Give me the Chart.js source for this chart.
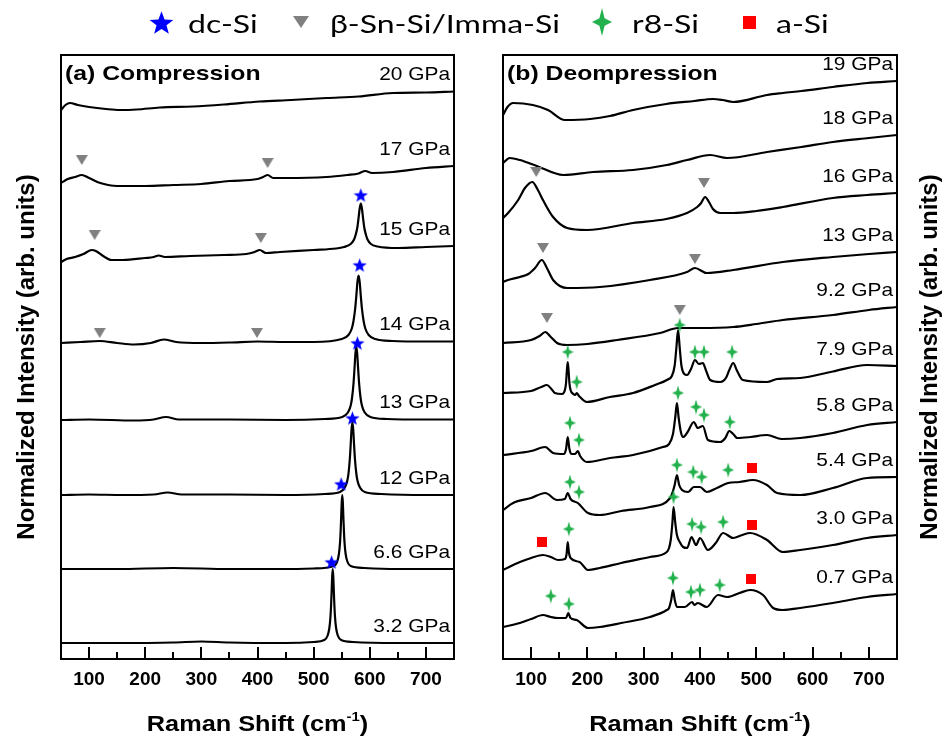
<!DOCTYPE html>
<html><head><meta charset="utf-8">
<script src="https://cdn.jsdelivr.net/npm/chart.js@4.4.1/dist/chart.umd.min.js"></script>
<style>
html,body{margin:0;padding:0;background:#fff;}
#wrap{position:relative;width:944px;height:744px;overflow:hidden;background:#fff;}
#wrap canvas{position:absolute;left:0;top:0;}
</style></head><body>
<div id="wrap"><canvas id="cL" width="944" height="744"></canvas><canvas id="cR" width="944" height="744"></canvas></div>
<script>
// ================= DATA =================
const xTickValues = [100, 200, 300, 400, 500, 600, 700];
const xMinorTickValues = [150, 250, 350, 450, 550, 650];
const legendLabels = ['dc-Si', 'β-Sn-Si/Imma-Si', 'r8-Si', 'a-Si'];

// (a) Compression: spectra as [Raman shift, intensity above own baseline], stacked by offsets
const compLabels  = ['3.2 GPa', '6.6 GPa', '12 GPa', '13 GPa', '14 GPa', '15 GPa', '17 GPa', '20 GPa'];
const compOffsets = [3.2, 18.0, 32.8, 47.8, 63.2, 79.8, 94.8, 110.0];
const comp_3_2 = [[50,0],[150,0],[250,0.1],[300,0.3],[350,0.1],[450,0],[500,0.2],[519,0.6],[525,1.5],[528,3.0],[530,5.3],[531,7.4],[532,10.2],[533,13.3],[534,14.8],[535,13.3],[536,10.2],[537,7.4],[538,5.3],[540,3.0],[543,1.5],[549,0.6],[570,0.2],[650,0],[750,0]];
const comp_6_6 = [[50,0],[150,0],[250,0.2],[350,0],[450,0],[500,0.1],[536,0.6],[542,1.5],[545,3.0],[547,5.3],[548,7.4],[549,10.2],[550,13.3],[551,14.8],[552,13.3],[553,10.2],[554,7.4],[555,5.3],[557,3.0],[560,1.5],[566,0.6],[590,0.2],[650,0],[750,0]];
const comp_12  = [[50,0],[100,0.1],[160,0],[215,0.1],[240,0.5],[265,0.1],[350,0.1],[450,0],[520,0.2],[547,0.6],[555.5,1.5],[560,2.9],[562.3,4.5],[564.5,7.3],[566,10.1],[567.5,13.1],[569,14.6],[570.5,13.1],[572,10.1],[573.5,7.3],[575.8,4.5],[578,2.9],[582.5,1.5],[591,0.6],[620,0.2],[700,0],[750,0]];
const comp_13  = [[50,0],[100,0.1],[180,-0.1],[215,0.1],[237,0.6],[260,0.1],[350,0.1],[450,0],[520,0.2],[551,0.6],[561,1.5],[566,2.9],[568.5,4.5],[571,7.3],[573,10.7],[574.5,13.4],[576,14.6],[577.5,13.4],[579,10.7],[581,7.3],[583.5,4.5],[586,2.9],[591,1.5],[601,0.6],[630,0.2],[700,0.1],[750,0.1]];
const comp_14  = [[50,0],[85,0.2],[119,0.4],[150,0],[180,-0.3],[210,0],[233,0.7],[255,0.2],[300,0],[350,0.1],[400,0.3],[450,0.2],[500,0.2],[550,0.8],[562,1.6],[568,2.9],[571,4.4],[574,6.9],[576,9.4],[578,12.2],[580,13.5],[582,12.2],[584,9.4],[586,6.9],[589,4.4],[592,2.9],[598,1.6],[610,0.8],[640,0.4],[700,0.3],[750,0.3]];
const comp_15  = [[50,-0.4],[60,0.2],[75,0.6],[90,1.2],[105,2.0],[112,1.8],[125,0.8],[140,0],[160,0],[200,0.4],[215,0.6],[224,0.9],[235,0.6],[280,0.8],[340,1.0],[380,1.2],[395,1.6],[404,2.0],[415,1.4],[440,1.6],[500,2.0],[540,2.3],[554,2.6],[566,3.2],[572,4.1],[575,5.1],[578,6.6],[580,8.4],[582,10.3],[584,11.3],[586,10.3],[588,8.4],[590,6.6],[593,5.1],[596,4.1],[602,3.2],[614,2.7],[650,2.4],[700,2.6],[750,2.8]];
const comp_17  = [[50,0.4],[62,1.2],[75,1.6],[87,2.0],[100,1.4],[120,0.4],[150,-0.2],[200,-0.2],[250,0],[300,0.2],[350,0.8],[400,1.2],[410,1.6],[418,2.0],[428,1.4],[450,1.4],[523,1.6],[560,2.0],[580,2.3],[592,2.8],[604,2.4],[641,2.6],[700,3.4],[750,3.8]];
const comp_20  = [[50,-0.2],[58,0.8],[66,1.2],[80,0.8],[100,0.4],[130,0],[155,-0.2],[185,-0.1],[226,0.3],[285,0.5],[340,0.9],[404,1.5],[460,1.8],[523,2.2],[580,2.5],[641,3.2],[700,3.3],[750,3.5]];
const compSpectra = [comp_3_2, comp_6_6, comp_12, comp_13, comp_14, comp_15, comp_17, comp_20];

// (b) Decompression
const decLabels  = ['0.7 GPa', '3.0 GPa', '5.4 GPa', '5.8 GPa', '7.9 GPa', '9.2 GPa', '13 GPa', '16 GPa', '18 GPa', '19 GPa'];
const decOffsets = [6.4, 17.8, 29.8, 40.8, 53.2, 63.2, 75.8, 89.2, 99.2, 109.8];
const dec_0_7 = [[50,0],[80,0.8],[100,1.6],[121,2.4],[135,2.0],[148,1.8],[162,1.8],[166,2.8],[170,1.8],[181,1.4],[201,-0.2],[222,0],[260,0.8],[311,2.0],[341,3.4],[345,3.8],[349,5.5],[352,7.4],[355,5.5],[359,4.0],[373,4.0],[386,5.0],[390,4.4],[396,4.8],[412,4.0],[432,6.4],[448,6.0],[470,6.8],[489,7.4],[512,6.4],[530,3.8],[547,3.4],[578,3.8],[636,4.8],[697,6.0],[750,6.6]];
const dec_3_0 = [[50,0],[80,1.6],[100,2.4],[121,3.0],[135,2.6],[148,2.0],[160,2.2],[163,3.2],[165,5.6],[167,3.6],[170,2.4],[186,1.6],[201,0],[222,0.4],[260,1.4],[311,2.6],[341,3.6],[345,4.4],[348,6.0],[351,9.5],[353,12.6],[356,9.5],[359,7.0],[364,5.6],[370,4.6],[377,4.4],[385,6.6],[393,5.0],[400,6.4],[414,4.0],[428,5.4],[441,7.4],[459,6.4],[475,7.0],[489,7.4],[519,6.0],[547,3.6],[578,4.0],[636,5.0],[697,6.4],[750,7.0]];
const dec_5_4 = [[50,0],[68,1.4],[100,2.4],[125,3.4],[146,2.0],[160,2.2],[165,3.4],[170,2.2],[183,1.4],[201,-0.6],[222,-1.0],[260,-0.2],[311,0.6],[347,2.4],[352,3.8],[355,5.0],[359,7.0],[363,5.0],[368,4.0],[379,3.6],[389,4.6],[400,4.6],[412,3.6],[430,4.4],[450,5.4],[470,5.6],[494,6.0],[519,5.0],[537,3.4],[578,3.0],[636,4.4],[697,6.4],[750,6.6]];
const dec_5_8 = [[50,0],[100,0.8],[125,1.6],[139,0.4],[158,0.2],[162,1.2],[165,3.6],[168,1.2],[172,0.2],[178,0.2],[183,0.8],[187,-0.2],[199,-1.4],[240,-0.6],[281,0],[334,1.6],[345,2.2],[352,4.2],[356,7.5],[359,10.4],[362,7.5],[366,4.6],[370,3.6],[378,4.6],[389,6.6],[396,5.4],[405,5.8],[414,3.0],[436,2.6],[445,3.4],[452,4.8],[459,4.2],[466,3.4],[490,3.6],[519,4.0],[545,3.2],[578,3.4],[636,4.4],[697,6.0],[750,6.6]];
const dec_7_9 = [[50,0],[100,0.4],[118,1.2],[128,1.6],[136,0.8],[142,0],[155,-0.2],[160,0.6],[162,2.0],[163.5,4.5],[165,6.2],[166.5,4.5],[168,2.0],[170,0.6],[175,-0.2],[178,-0.4],[181,0],[185,-0.6],[199,-1.8],[240,-0.8],[281,0],[320,1.6],[341,2.6],[350,3.4],[355,5.5],[358,9.0],[361,12.6],[364,9.0],[367,5.5],[372,3.8],[377,3.6],[384,4.8],[391,6.6],[398,5.8],[405,6.0],[411,4.4],[418,2.6],[436,2.2],[446,3.0],[452,4.6],[459,6.0],[466,4.4],[476,2.6],[519,2.2],[537,2.8],[578,3.0],[636,4.3],[697,5.6],[750,5.4]];
const dec_9_2 = [[50,0],[100,0.6],[115,1.4],[125,2.2],[135,1.2],[146,0],[164,-0.4],[200,-0.2],[253,0.6],[329,2.0],[361,3.0],[400,3.0],[459,3.2],[500,3.8],[547,4.6],[636,5.6],[700,6.6],[750,7.2]];
const dec_13  = [[50,-0.4],[59,0],[80,0.6],[95,1.2],[107,2.4],[119,4.0],[128,2.4],[139,0],[164,-1.6],[222,-1.4],[311,0],[377,1.6],[391,2.4],[412,1.4],[459,2.0],[547,3.6],[636,4.6],[700,5.2],[750,5.6]];
const dec_16  = [[50,-1.0],[59,0],[77,2.6],[89,5.0],[102,6.2],[112,4.6],[121,2.6],[139,-0.8],[164,-3.0],[199,-3.4],[281,-2.0],[340,-1.2],[377,0],[395,1.2],[402,2.0],[409,3.2],[416,2.2],[423,0.8],[436,0],[459,0],[500,0.4],[547,1.2],[636,3.0],[697,3.6],[750,4.0]];
const dec_18  = [[50,0],[62,1.0],[80,0.6],[110,-0.6],[157,-2.4],[210,-1.8],[281,-1.4],[341,-0.4],[377,0.6],[418,1.6],[448,1.0],[519,2.2],[580,3.2],[636,4.2],[700,5.0],[750,5.6]];
const dec_19  = [[50,-1.0],[58,0.6],[68,1.4],[103,1.0],[130,0],[160,-2.0],[205,-1.8],[240,-1.2],[281,0],[340,1.2],[390,1.8],[423,2.2],[440,2.0],[459,1.6],[519,3.0],[547,3.4],[580,3.8],[636,4.6],[697,5.4],[750,5.8]];
const decSpectra = [dec_0_7, dec_3_0, dec_5_4, dec_5_8, dec_7_9, dec_9_2, dec_13, dec_16, dec_18, dec_19];

// phase markers: [Raman shift, stacked intensity]
const dcSiComp = [[532,19.4],[549,35.0],[569,48.2],[578,63.2],[582,78.8],[584,92.8]];
const betaComp = [[87,99.8],[418,99.2],[110,84.8],[406,84.2],[119,65.2],[399,65.2]];
const betaDec  = [[109,97.4],[407,95.2],[121,82.2],[391,80.0],[128,68.2],[364,69.8]];
const r8Dec    = [[364,66.8],[165,61.4],[181,55.4],[391,61.4],[407,61.4],[457,61.4],
                  [169,47.2],[185,43.8],[361,53.2],[393,50.4],[407,48.8],[453,47.4],
                  [169,35.4],[185,33.4],[359,38.8],[388,37.4],[403,36.4],[450,37.8],
                  [167,26.0],[353,32.4],[386,27.0],[402,26.4],[441,27.4],
                  [135,12.6],[167,11.0],[352,16.2],[384,13.4],[400,13.8],[435,14.8]];
const aSiDec   = [[492,38.2],[119,23.4],[492,26.8],[491,16.0]];

// ================= STYLE / HELPERS =================
const FONT = "'Liberation Sans', Arial, sans-serif";
const COL = {dc:'#0000ff', beta:'#808080', r8:'#22b14c', a:'#ff0000'};

function mk(w, h, draw) { const c = document.createElement('canvas'); c.width = w; c.height = h; const g = c.getContext('2d'); draw(g, w, h); return c; }
function star5(d, color) {
  return mk(d, d, (g) => {
    const R = d / 2, r = R * 0.42, cy = R + R * 0.1;
    g.beginPath();
    for (let k = 0; k < 10; k++) { const a = -Math.PI / 2 + k * Math.PI / 5; const rr = k % 2 ? r : R; g.lineTo(R + rr * Math.cos(a), cy + rr * Math.sin(a)); }
    g.closePath(); g.fillStyle = color; g.fill();
  });
}
function triDown(w, h, color) { return mk(w, h, (g) => { g.beginPath(); g.moveTo(0, 0); g.lineTo(w, 0); g.lineTo(w / 2, h); g.closePath(); g.fillStyle = color; g.fill(); }); }
function star4(w, h, color) {
  return mk(w, h, (g) => {
    const cx = w / 2, cy = h / 2, ix = w * 0.13, iy = h * 0.13;
    g.beginPath(); g.moveTo(cx, 0); g.lineTo(cx + ix, cy - iy); g.lineTo(w, cy); g.lineTo(cx + ix, cy + iy);
    g.lineTo(cx, h); g.lineTo(cx - ix, cy + iy); g.lineTo(0, cy); g.lineTo(cx - ix, cy - iy); g.closePath();
    g.fillStyle = color; g.fill();
  });
}
function square(d, color) { return mk(d, d, (g) => { g.fillStyle = color; g.fillRect(0, 0, d, d); }); }

const mStar = star5(15, COL.dc), mTri = triDown(12, 10, COL.beta), mR8 = star4(12, 15, COL.r8), mSq = square(10, COL.a);
const lStar = star5(25, COL.dc), lTri = triDown(16, 12, COL.beta), lR8 = star4(20, 28, COL.r8), lSq = square(13, COL.a);

function txt(ctx, s, x, y, font, align, sx, baseline) {
  ctx.save(); ctx.font = font; ctx.fillStyle = '#000'; ctx.textBaseline = baseline || 'middle'; ctx.textAlign = 'left';
  const w = ctx.measureText(s).width * sx;
  const x0 = align === 'left' ? x : align === 'right' ? x - w : x - w / 2;
  ctx.translate(x0, y); ctx.scale(sx, 1); ctx.fillText(s, 0, 0); ctx.restore();
}

function spectrumSets(spectra, offsets) {
  return spectra.map((pts, i) => ({
    type: 'line', data: pts.map(p => ({x: p[0], y: offsets[i] + p[1]})),
    borderColor: '#000', borderWidth: 2.2, pointRadius: 0, fill: false,
    cubicInterpolationMode: 'monotone', order: 1
  }));
}
function markerSet(pts, img) {
  return { type: 'scatter', data: pts.map(p => ({x: p[0], y: p[1]})), pointStyle: img, pointRadius: 6, showLine: false, order: 0 };
}

function decor(o) {
  return {
    id: 'decor' + o.side,
    afterDatasetsDraw(chart) {
      const {ctx, chartArea: a, scales: {x, y}} = chart;
      ctx.save();
      ctx.strokeStyle = '#000'; ctx.lineWidth = 2;
      ctx.strokeRect(a.left, a.top, a.right - a.left, a.bottom - a.top);
      ctx.beginPath();
      xTickValues.forEach(v => { const p = Math.round(x.getPixelForValue(v)); ctx.moveTo(p, a.bottom); ctx.lineTo(p, a.bottom - 12); });
      xMinorTickValues.forEach(v => { const p = Math.round(x.getPixelForValue(v)); ctx.moveTo(p, a.bottom); ctx.lineTo(p, a.bottom - 7); });
      ctx.stroke();
      ctx.restore();
      // pressure labels just above each trace's right end
      o.labels.forEach((lab, i) => {
        const pts = o.spectra[i]; const last = o.offsets[i] + pts[pts.length - 1][1];
        txt(ctx, lab, a.right - 4, y.getPixelForValue(last + 3.3), '19px ' + FONT, 'right', 1.1);
      });
      // panel title
      txt(ctx, o.title, a.left + 4, a.top + 19, 'bold 21px ' + FONT, 'left', 1.18);
      // x axis title with superscript
      ctx.save();
      const cx = (a.left + a.right) / 2, ty = 731, sx = 1.15;
      ctx.font = 'bold 22px ' + FONT; const w1 = ctx.measureText('Raman Shift (cm').width * sx;
      ctx.font = 'bold 13px ' + FONT; const w2 = ctx.measureText('-1').width * sx;
      ctx.font = 'bold 22px ' + FONT; const w3 = ctx.measureText(')').width * sx;
      const x0 = cx - (w1 + w2 + w3) / 2;
      ctx.restore();
      txt(ctx, 'Raman Shift (cm', x0, ty, 'bold 22px ' + FONT, 'left', sx, 'alphabetic');
      txt(ctx, '-1', x0 + w1, ty - 10, 'bold 13px ' + FONT, 'left', sx, 'alphabetic');
      txt(ctx, ')', x0 + w1 + w2, ty, 'bold 22px ' + FONT, 'left', sx, 'alphabetic');
      // y axis title (rotated, reading upward)
      ctx.save();
      ctx.translate(o.yTitleX, (a.top + a.bottom) / 2); ctx.rotate(-Math.PI / 2);
      ctx.font = 'bold 24px ' + FONT; ctx.fillStyle = '#000'; ctx.textAlign = 'center'; ctx.textBaseline = 'middle';
      ctx.fillText('Normalized Intensity (arb. units)', 0, 0);
      ctx.restore();
    }
  };
}

const legendPlugin = {
  id: 'topLegend',
  afterDraw(chart) {
    const ctx = chart.ctx;
    const items = [[lStar, 161, 188], [lTri, 301, 330], [lR8, 602, 632], [lSq, 749, 776]];
    items.forEach((it, i) => {
      const img = it[0];
      ctx.drawImage(img, Math.round(it[1] - img.width / 2), Math.round(22 - img.height / 2));
      txt(ctx, legendLabels[i], it[2], 33, '25px Lato, ' + FONT, 'left', 1.28, 'alphabetic');
    });
  }
};

function xScale() {
  return {
    type: 'linear', position: 'bottom', min: 50, max: 750,
    afterBuildTicks: s => { s.ticks = xTickValues.map(v => ({value: v})); },
    afterFit: s => { s.height = 85; },
    grid: {display: false, drawTicks: false}, border: {display: false},
    ticks: {autoSkip: false, maxRotation: 0, padding: 9, color: '#000', font: {family: FONT, size: 19, weight: 'bold'}}
  };
}
function yScale(pos, w) {
  return {
    type: 'linear', position: pos, min: 0, max: 120.8,
    afterFit: s => { s.width = w; },
    grid: {display: false, drawTicks: false}, border: {display: false}, ticks: {display: false}
  };
}

new Chart(document.getElementById('cL'), {
  type: 'line',
  data: { datasets: [markerSet(dcSiComp, mStar), markerSet(betaComp, mTri), ...spectrumSets(compSpectra, compOffsets)] },
  options: {
    responsive: false, animation: false, devicePixelRatio: 1,
    layout: {padding: {left: 0, right: 490, top: 55, bottom: 0}},
    plugins: {legend: {display: false}, tooltip: {enabled: false}},
    scales: {x: xScale(), y: yScale('left', 61)}
  },
  plugins: [decor({side: 'L', labels: compLabels, spectra: compSpectra, offsets: compOffsets, title: '(a) Compression', yTitleX: 27}), legendPlugin]
});

new Chart(document.getElementById('cR'), {
  type: 'line',
  data: { datasets: [markerSet(betaDec, mTri), markerSet(r8Dec, mR8), markerSet(aSiDec, mSq), ...spectrumSets(decSpectra, decOffsets)] },
  options: {
    responsive: false, animation: false, devicePixelRatio: 1,
    layout: {padding: {left: 503, right: 0, top: 55, bottom: 0}},
    plugins: {legend: {display: false}, tooltip: {enabled: false}},
    scales: {x: xScale(), y: yScale('right', 47)}
  },
  plugins: [decor({side: 'R', labels: decLabels, spectra: decSpectra, offsets: decOffsets, title: '(b) Deompression', yTitleX: 930})]
});
</script>
</body></html>
